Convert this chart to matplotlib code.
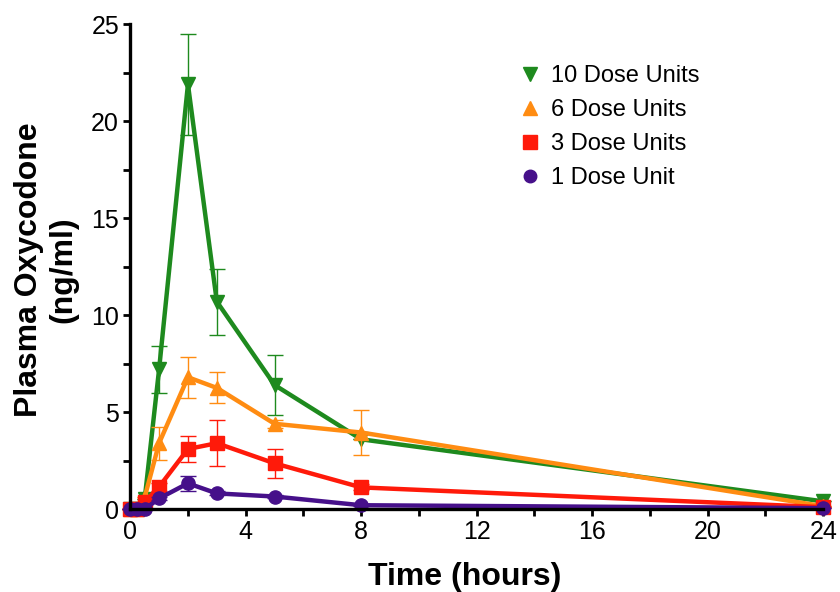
import numpy as np
import matplotlib
matplotlib.use("Agg")
import matplotlib.pyplot as plt
from matplotlib.lines import Line2D
from matplotlib.ticker import MultipleLocator

plt.rcParams['font.family'] = ['Liberation Sans', 'DejaVu Sans']

# sampling times (hours)
hours = [0, 0.25, 0.5, 1, 2, 3, 5, 8, 24]

# mean plasma oxycodone (ng/ml) and error bar half-widths
dose10 = [0, 0, 0.5, 7.2, 21.9, 10.7, 6.4, 3.6, 0.4]
dose10_err = [0, 0, 0, 1.2, 2.6, 1.7, 1.55, 0, 0]
dose6 = [0, 0, 0.6, 3.4, 6.8, 6.25, 4.4, 3.95, 0.15]
dose6_err = [0, 0, 0, 0.85, 1.05, 0.8, 0.2, 1.15, 0]
dose3 = [0, 0, 0.35, 1.15, 3.1, 3.4, 2.36, 1.12, 0.1]
dose3_err = [0, 0, 0, 0.2, 0.65, 1.2, 0.75, 0.15, 0]
dose1 = [0, 0, 0, 0.55, 1.33, 0.81, 0.65, 0.2, 0.05]
dose1_err = [0, 0, 0, 0.1, 0.4, 0.1, 0.1, 0.05, 0]

labels = ['10 Dose Units', '6 Dose Units', '3 Dose Units', '1 Dose Unit']
colors = ['#1e8a1e', '#ff8c12', '#ff1a0a', '#46108a']
markers = ['v', '^', 's', 'o']
sizes = [10.5, 10.5, 10, 9.5]

series = [(dose10, dose10_err), (dose6, dose6_err), (dose3, dose3_err), (dose1, dose1_err)]

fig = plt.figure(figsize=(8.4, 5.92), dpi=100)
ax = fig.add_axes([0.155, 0.140, 0.825, 0.819])

for (vals, errs), c, m, s in zip(series, colors, markers, sizes):
    ax.errorbar(hours, vals, yerr=errs, color=c, ecolor=c, elinewidth=1,
                capsize=5.5, capthick=1, fmt='none', clip_on=False)
    ax.plot(hours, vals, color=c, lw=3.2, marker=m, markersize=s, clip_on=False)

ax.set_xlim(0, 24)
ax.set_ylim(0, 25)
ax.xaxis.set_major_locator(MultipleLocator(4))
ax.xaxis.set_minor_locator(MultipleLocator(2))
ax.yaxis.set_major_locator(MultipleLocator(5))
ax.yaxis.set_minor_locator(MultipleLocator(2.5))

for side in ['top', 'right']:
    ax.spines[side].set_visible(False)
for side in ['left', 'bottom']:
    ax.spines[side].set_linewidth(2.4)

ax.tick_params(which='both', direction='out', length=5, width=2)
ax.tick_params(which='major', labelsize=18, pad=3)

fig.text(465 / 840, 1 - 585 / 592, 'Time (hours)', fontsize=23, fontweight='bold',
         ha='center', va='baseline')
fig.text(46 / 840, 1 - 270 / 592, 'Plasma Oxycodone\n(ng/ml)', fontsize=23,
         fontweight='bold', rotation=90, ha='center', va='center',
         multialignment='center', linespacing=1.2)

handles = [Line2D([], [], color=c, marker=m, markersize=s - 0.5, linestyle='none')
           for c, m, s in zip(colors, markers, sizes)]
ax.legend(handles, labels, loc='upper left', bbox_to_anchor=(0.560, 0.915),
          frameon=False, fontsize=17, handlelength=1.0, handletextpad=0.4,
          labelspacing=0.5, borderpad=0, borderaxespad=0)

fig.savefig('out.png', dpi=100)
